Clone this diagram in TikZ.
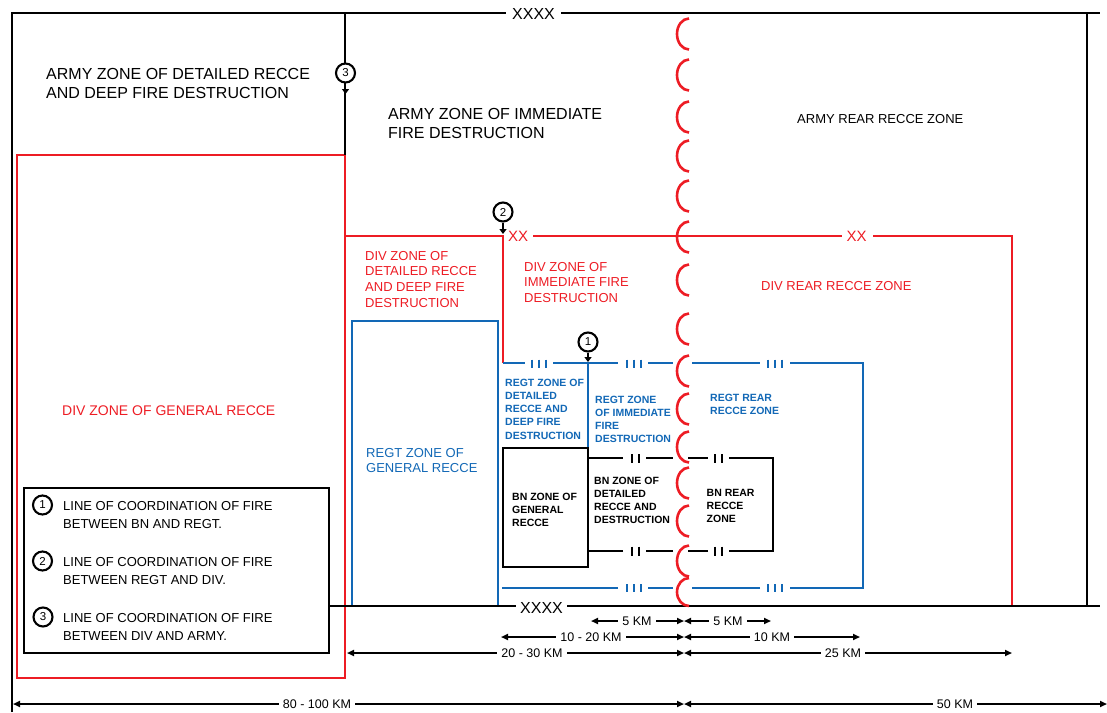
\documentclass[tikz,border=0pt]{standalone}
\usepackage{fontspec}
\setmainfont{Liberation Sans}
\usetikzlibrary{arrows.meta}
\definecolor{zred}{RGB}{237,28,36}
\definecolor{zblue}{RGB}{18,104,182}
\tikzset{
  blk/.style={line width=2.2pt, draw=black},
  redl/.style={line width=2.2pt, draw=zred},
  bluel/.style={line width=2.2pt, draw=zblue},
  coil/.style={line width=2.6pt, draw=zred},
  txt/.style={inner sep=0pt, anchor=base west, align=left},
  big/.style={font=\fontsize{16}{19}\selectfont},
  mid/.style={font=\fontsize{13}{15.8}\selectfont},
  sml/.style={font=\fontsize{10.5}{13.3}\selectfont\bfseries},
  dimtxt/.style={fill=white, inner xsep=4pt, inner ysep=1pt, font=\fontsize{12.5}{14}\selectfont},
  dimln/.style={line width=1.7pt, {Triangle[length=7pt,width=6pt]}-{Triangle[length=7pt,width=6pt]}},
  lcf/.style={circle, draw, line width=2.1pt, fill=white, minimum size=19pt, inner sep=0pt, font=\fontsize{11.5}{11.5}\selectfont},
  lcfarrow/.style={line width=1.8pt, -{Triangle[length=5pt,width=7pt]}},
  tick/.style={line width=2.8pt, line cap=butt},
}
\begin{document}
\begin{tikzpicture}[x=1pt,y=-1pt]
\useasboundingbox (0,0) rectangle (1107,712);

% ---------- red DIV general box ----------
\draw[redl] (17,155) rectangle (345,678);

% ---------- black army frame ----------
\draw[blk] (12,712) -- (12,13) -- (506,13);
\draw[blk] (561,13) -- (1100,13);
\draw[blk] (1087,13) -- (1087,606);
\draw[blk] (345,13) -- (345,155);
\node[inner sep=0pt, font=\fontsize{16}{16}\selectfont] (xxxxtop) at (533.5,14) {XXXX};

% ---------- red DIV lines ----------
\draw[redl] (345,236) -- (503,236) -- (503,363);
\draw[redl] (533,236) -- (842,236);
\draw[redl] (873,236) -- (1012,236) -- (1012,606);
\node[inner sep=0pt, text=zred, font=\fontsize{15}{15}\selectfont] (xxa) at (518,236.5) {XX};
\node[inner sep=0pt, text=zred, font=\fontsize{15}{15}\selectfont] (xxb) at (856.5,236.5) {XX};

% ---------- blue REGT general box ----------
\draw[bluel] (352,606) -- (352,321) -- (498,321) -- (498,606);

% ---------- blue REGT zone lines ----------
\draw[bluel] (503,363) -- (525,363);
\draw[bluel] (553,363) -- (618,363);
\draw[bluel] (648,363) -- (673,363);
\draw[bluel] (692,363) -- (760,363);
\draw[bluel] (790,363) -- (863,363) -- (863,588) -- (790,588);
\draw[bluel] (760,588) -- (692,588);
\draw[bluel] (673,588) -- (648,588);
\draw[bluel] (618,588) -- (502,588);
\draw[bluel] (588,363) -- (588,448);
\foreach \x in {532,539,546,627,634,641,768,775,782}
  \draw[tick, zblue] (\x,359.5) -- (\x,367.5);
\foreach \x in {627,634,641,768,775,782}
  \draw[tick, zblue] (\x,584) -- (\x,592);

% ---------- BN zone ----------
\draw[blk] (503,448) rectangle (588,567);
\draw[blk] (588,458) -- (623,458);
\draw[blk] (646,458) -- (673,458);
\draw[blk] (688,458) -- (708,458);
\draw[blk] (729,458) -- (773,458) -- (773,551) -- (729,551);
\draw[blk] (708,551) -- (688,551);
\draw[blk] (673,551) -- (646,551);
\draw[blk] (623,551) -- (588,551);
\foreach \x in {632,639,715,722} {
  \draw[tick] (\x,454) -- (\x,463);
  \draw[tick] (\x,546.5) -- (\x,555.5);
}

% ---------- bottom army line ----------
\draw[blk] (329,606) -- (516,606);
\draw[blk] (567,606) -- (1100,606);
\node[inner sep=0pt, font=\fontsize{16}{16}\selectfont] (xxxxbot) at (541.5,607.5) {XXXX};

% ---------- coil (front line) ----------
\foreach \c in {34,75,117,156,196,237,280,329,371,409,447,483,521,561}
  \draw[coil] (689,\c-15.5) arc[start angle=270, end angle=90, x radius=12, y radius=15.5];
\draw[coil] (689,578) arc[start angle=270, end angle=90, x radius=12, y radius=14];

% ---------- coordination markers ----------
\node[lcf] (c3) at (345.5,73) {3};
\coordinate (c3t) at (345.5,94);
\draw[lcfarrow] (c3) -- (c3t);
\node[lcf] (c2) at (503,212) {2};
\coordinate (c2t) at (503,234);
\draw[lcfarrow] (c2) -- (c2t);
\node[lcf] (c1) at (588,342) {1};
\coordinate (c1t) at (588,362);
\draw[lcfarrow] (c1) -- (c1t);

% ---------- zone texts (anchor = baseline of last line) ----------
\node[txt, big] (tArmyDet) at (46,98) {ARMY ZONE OF DETAILED RECCE\\AND DEEP FIRE DESTRUCTION};
\node[txt, big] (tArmyImm) at (388,138) {ARMY ZONE OF IMMEDIATE\\FIRE DESTRUCTION};
\node[txt, font=\fontsize{13}{15}\selectfont] (tArmyRear) at (797,123) {ARMY REAR RECCE ZONE};

\node[txt, mid, text=zred] (tDivDet) at (365,307.4) {DIV ZONE OF\\DETAILED RECCE\\AND DEEP FIRE\\DESTRUCTION};
\node[txt, mid, text=zred] (tDivImm) at (524,302.6) {DIV ZONE OF\\IMMEDIATE FIRE\\DESTRUCTION};
\node[txt, mid, text=zred] (tDivRear) at (761,290) {DIV REAR RECCE ZONE};
\node[txt, font=\fontsize{14}{16}\selectfont, text=zred] (tDivGen) at (62,415) {DIV ZONE OF GENERAL RECCE};

\node[txt, mid, text=zblue] (tRegtGen) at (366,472.8) {REGT ZONE OF\\GENERAL RECCE};
\node[txt, sml, text=zblue] (tRegtDet) at (505,439.2) {REGT ZONE OF\\DETAILED\\RECCE AND\\DEEP FIRE\\DESTRUCTION};
\node[txt, sml, text=zblue] (tRegtImm) at (595,442.9) {REGT ZONE\\OF IMMEDIATE\\FIRE\\DESTRUCTION};
\node[txt, sml, text=zblue] (tRegtRear) at (710,414.3) {REGT REAR\\RECCE ZONE};

\node[txt, sml] (tBnGen) at (512,526.6) {BN ZONE OF\\GENERAL\\RECCE};
\node[txt, sml] (tBnDet) at (594,523.9) {BN ZONE OF\\DETAILED\\RECCE AND\\DESTRUCTION};
\node[txt, sml] (tBnRear) at (706.5,522.6) {BN REAR\\RECCE\\ZONE};

% ---------- legend ----------
\draw[blk, fill=white] (24,488) rectangle (329,653);
\node[lcf] (l1) at (42.5,505) {1};
\node[lcf] (l2) at (42.5,561) {2};
\node[lcf] (l3) at (43,617) {3};
\node[txt, font=\fontsize{13}{18}\selectfont] (tL1) at (63,528) {LINE OF COORDINATION OF FIRE\\BETWEEN BN AND REGT.};
\node[txt, font=\fontsize{13}{18}\selectfont] (tL2) at (63,584) {LINE OF COORDINATION OF FIRE\\BETWEEN REGT AND DIV.};
\node[txt, font=\fontsize{13}{18}\selectfont] (tL3) at (63,640) {LINE OF COORDINATION OF FIRE\\BETWEEN DIV AND ARMY.};

% ---------- dimensions ----------
\coordinate (r1a) at (591,621);  \coordinate (r1m) at (684,621); \coordinate (r1b) at (771,621);
\coordinate (r2a) at (501,637);  \coordinate (r2m) at (684,637); \coordinate (r2b) at (860,637);
\coordinate (r3a) at (347,653);  \coordinate (r3m) at (684,653); \coordinate (r3b) at (1012,653);
\coordinate (r4a) at (13,704);   \coordinate (r4m) at (684,704); \coordinate (r4b) at (1107,704);
\draw[dimln] (r1a) -- (r1m);
\draw[dimln] (r1m) -- (r1b);
\draw[dimln] (r2a) -- (r2m);
\draw[dimln] (r2m) -- (r2b);
\draw[dimln] (r3a) -- (r3m);
\draw[dimln] (r3m) -- (r3b);
\draw[dimln] (r4a) -- (r4m);
\draw[dimln] (r4m) -- (r4b);
\node[dimtxt] (d1a) at (637,621) {5 KM};
\node[dimtxt] (d1b) at (728,621) {5 KM};
\node[dimtxt] (d2a) at (591,637) {10 - 20 KM};
\node[dimtxt] (d2b) at (772,637) {10 KM};
\node[dimtxt] (d3a) at (532,653) {20 - 30 KM};
\node[dimtxt] (d3b) at (843,653) {25 KM};
\node[dimtxt] (d4a) at (317,704) {80 - 100 KM};
\node[dimtxt] (d4b) at (955,704) {50 KM};
\end{tikzpicture}
\end{document}
